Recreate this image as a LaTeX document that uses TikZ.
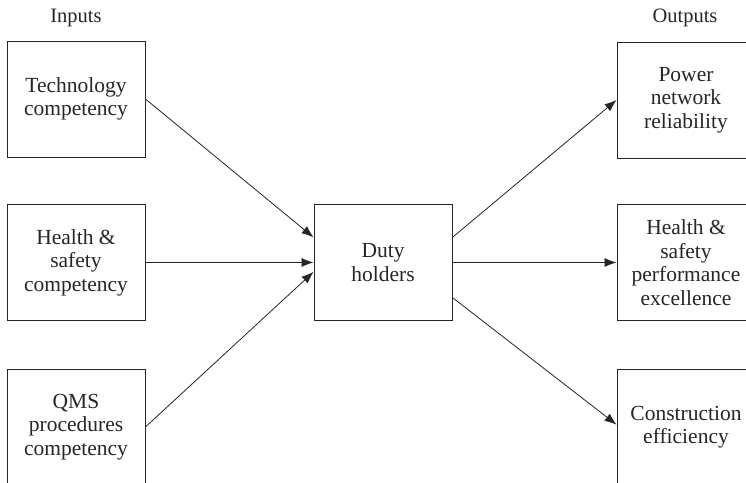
\documentclass[tikz,border=0pt]{standalone}
\usepackage{fontspec}
\setmainfont{Liberation Serif}
\newfontfamily\boxfont{Liberation Serif}
\usetikzlibrary{arrows.meta,calc}
\tikzset{
  box/.style={draw=black!85, line width=0.9pt, minimum width=138pt, minimum height=116pt,
    inner sep=0pt, align=center, text=black!85, font=\boxfont\fontsize{21.5}{23.5}\selectfont},
  head/.style={text=black!85, font=\boxfont\fontsize{20.5}{23}\selectfont},
  link/.style={draw=black!85, line width=0.8pt, -{Latex[length=12pt,width=9pt]}}
}
\begin{document}
\begin{tikzpicture}[x=1pt,y=1pt]
  \clip (0,0) rectangle (746,482);
  \fill[white] (0,0) rectangle (746,482);

  % column headings
  \node[head] (inhead) at (76,464) {Inputs};
  \node[head] (outhead) at (685,464) {Outputs};

  % inputs
  \node[box] (tech) at (76,383) {Technology\\competency};
  \node[box] (hsin) at (76,219.5) {Health \&\\safety\\competency};
  \node[box] (qms) at (76,55) {QMS\\procedures\\competency};

  % centre
  \node[box] (duty) at (383,219.5) {Duty\\holders};

  % outputs
  \node[box] (power) at (686,382) {Power\\network\\reliability};
  \node[box] (hsout) at (686,219.5) {Health \&\\safety\\performance\\excellence};
  \node[box] (constr) at (686,55) {Construction\\efficiency};

  % inputs to duty holders
  \draw[link] (tech.east) -- ($(duty.north west)!0.285!(duty.south west)$);
  \draw[link] (hsin.east) -- (duty.west);
  \draw[link] (qms.east) -- ($(duty.north west)!0.58!(duty.south west)$);

  % duty holders to outputs
  \draw[link] ($(duty.north east)!0.285!(duty.south east)$) -- ($(power.north west)!0.5!(power.south west)$);
  \draw[link] (duty.east) -- (hsout.west);
  \draw[link] ($(duty.north east)!0.8!(duty.south east)$) -- ($(constr.north west)!0.48!(constr.south west)$);
\end{tikzpicture}
\end{document}
